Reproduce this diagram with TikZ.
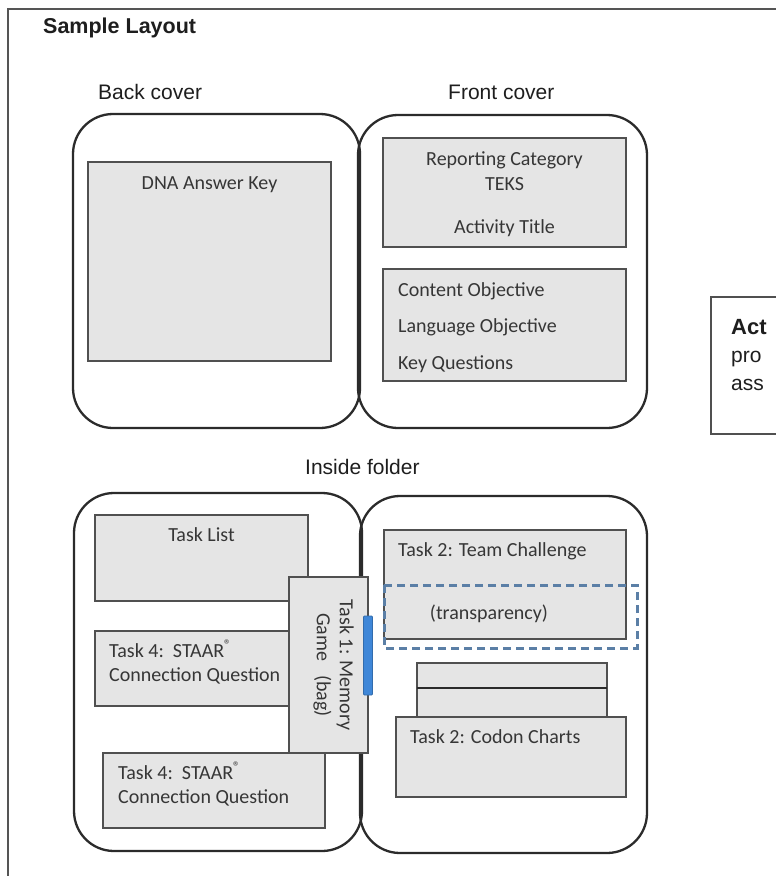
\documentclass[tikz,border=0pt]{standalone}
\usepackage{fontspec}
\setmainfont{Liberation Sans}
\newfontfamily\calibfont{Carlito}
\usepackage{tikz}
\usetikzlibrary{positioning}
\usepackage{xcolor}

\definecolor{framegray}{HTML}{555555}
\definecolor{coverline}{HTML}{2B2B2B}
\definecolor{panefill}{HTML}{E5E5E5}
\definecolor{paneline}{HTML}{505050}
\definecolor{notetext}{HTML}{363636}
\definecolor{headtext}{HTML}{1E1E1E}
\definecolor{sheetblue}{HTML}{5B7FA6}
\definecolor{bagblue}{HTML}{3F87D8}

\begin{document}
\begin{tikzpicture}[x=1pt,y=-1pt,
  cover/.style={draw=coverline, line width=2.3pt, rounded corners=40pt},
  pane/.style={fill=panefill, draw=paneline, line width=1.7pt},
  heading/.style={font=\fontsize{21}{25}\selectfont, text=headtext, inner sep=0pt},
  note/.style={font=\calibfont\fontsize{20}{23}\selectfont, text=notetext, inner sep=0pt}]
\clip (0,0) rectangle (776,876);
\fill[white] (0,0) rectangle (776,876);
% page frame
\draw[framegray, line width=2pt] (8,900) |- (800,9);
\node[heading, font=\bfseries\fontsize{21.5}{25}\selectfont, anchor=base west] (title) at (43,33) {Sample Layout};

% outside of the folder
\node[heading, anchor=base west] (backlbl) at (98,99) {Back cover};
\node[heading, anchor=base west] (frontlbl) at (448,99) {Front cover};
\draw[cover] (73,114) rectangle (360,428);
\draw[cover] (358,115) rectangle (647,428);

\filldraw[pane] (88,162) rectangle (331,361);
\node[note, anchor=base] (dna) at (209.5,189) {DNA Answer Key};

\filldraw[pane] (383,138) rectangle (626,247);
\node[note, anchor=base] (repcat) at (504.5,165) {Reporting Category};
\node[note, anchor=base] (teks) at (504.5,190) {TEKS};
\node[note, anchor=base] (acttitle) at (504.5,233) {Activity Title};

\filldraw[pane] (383,269) rectangle (626,381);
\node[note, anchor=base west] (cobj) at (398,296) {Content Objective};
\node[note, anchor=base west] (lobj) at (398,332) {Language Objective};
\node[note, anchor=base west] (keyq) at (398,369) {Key Questions};

% side note, runs off the page
\draw[paneline, line width=1.5pt] (800,297) -| (711,434) -- (800,434);
\node[heading, font=\bfseries\fontsize{22}{26}\selectfont, anchor=base west] (actA) at (731,334) {Act};
\node[heading, anchor=base west] (actB) at (731,362) {pro};
\node[heading, anchor=base west] (actC) at (731,390) {ass};

% inside of the folder
\node[heading, anchor=base west] (insidelbl) at (305,474) {Inside folder};
\draw[cover] (74,493) rectangle (362,851);
\draw[cover] (360,496) rectangle (647,853);

\filldraw[pane] (95,515) rectangle (308,601);
\node[note, anchor=base] (tasklist) at (201.5,541) {Task List};

\filldraw[pane] (95,631) rectangle (300,706);
\node[note, anchor=base west] (stA) at (109,657) {Task 4:\ \ STAAR\textsuperscript{®}};
\node[note, anchor=base west] (stB) at (109,681) {Connection Question};

\filldraw[pane] (103,753) rectangle (325,828);
\node[note, anchor=base west] (stC) at (118,779) {Task 4:\ \ STAAR\textsuperscript{®}};
\node[note, anchor=base west] (stD) at (118,803) {Connection Question};

% memory game bag over the fold
\filldraw[pane] (289,577) rectangle (368,753);
\node[note, rotate=-90, align=center] (bag) at (333.5,665) {Task 1: Memory\\Game\ \ \ (bag)};
\filldraw[fill=bagblue, draw=bagblue!80!black, line width=0.8pt, rounded corners=1pt] (363.5,616) rectangle (372.5,695);

\filldraw[pane] (384,530) rectangle (626,639);
\node[note, anchor=base west] (team) at (398,556) {Task 2: Team Challenge};
\node[note, anchor=base] (transp) at (489,619) {(transparency)};
\draw[sheetblue, line width=3pt, dash pattern=on 8pt off 5pt] (384,585) rectangle (637,648);

\filldraw[pane] (417,663) rectangle (607,688);
\filldraw[pane] (417,688) rectangle (607,717);
\draw[coverline, line width=1.8pt] (417,688) -- (607,688);
\filldraw[pane] (396,717) rectangle (626,797);
\node[note, anchor=base west] (codon) at (410,743) {Task 2: Codon Charts};
\end{tikzpicture}
\end{document}
